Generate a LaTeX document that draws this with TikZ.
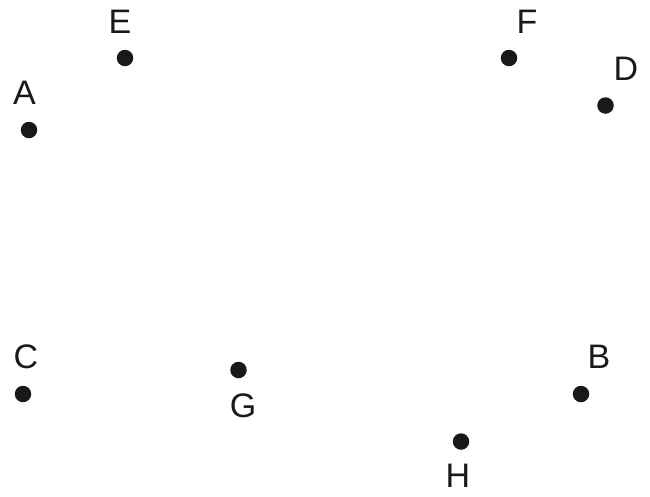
\documentclass[tikz,border=0pt]{standalone}
\usepackage{fontspec}
\setmainfont{Liberation Sans}
\begin{document}
\begin{tikzpicture}[x=1pt,y=-1pt,
  dot/.style={circle,fill=black!90,inner sep=0pt,minimum size=16.5pt},
  lbl/.style={inner sep=0pt,font=\fontsize{34}{40}\selectfont,text=black!90}]
\useasboundingbox (0,0) rectangle (650,496);
\node[dot] (A) at (29,130) {};
\node[dot] (E) at (125,58) {};
\node[dot] (F) at (509,58) {};
\node[dot] (D) at (605.5,105.5) {};
\node[dot] (C) at (23,394) {};
\node[dot] (G) at (238.5,370) {};
\node[dot] (B) at (581,394) {};
\node[dot] (H) at (461,441.5) {};
\node[lbl] (lA) at (24.5,93) {A};
\node[lbl] (lE) at (120,22) {E};
\node[lbl] (lF) at (527,22) {F};
\node[lbl] (lD) at (626,69) {D};
\node[lbl] (lC) at (26,357) {C};
\node[lbl] (lG) at (243,406) {G};
\node[lbl] (lB) at (599,357) {B};
\node[lbl] (lH) at (458,475.5) {H};
\end{tikzpicture}
\end{document}
